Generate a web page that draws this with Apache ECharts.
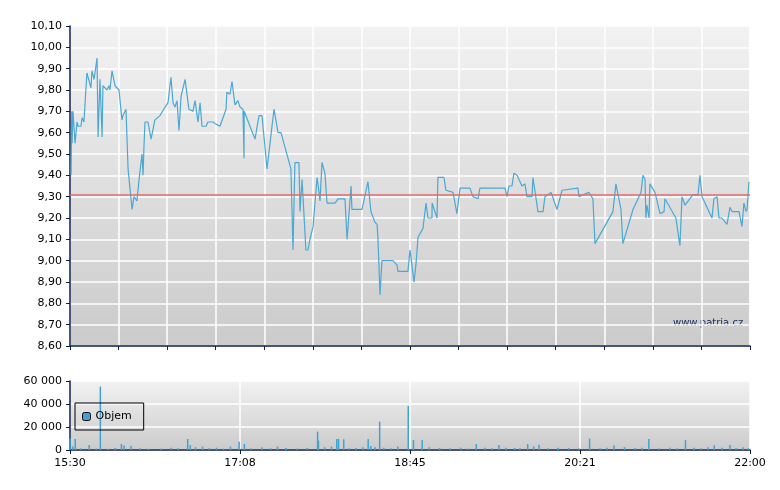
<!DOCTYPE html>
<html>
<head>
<meta charset="utf-8">
<script src="https://cdn.jsdelivr.net/npm/echarts@6/dist/echarts.min.js"></script>
<style>html,body{margin:0;background:#fff}#main{width:780px;height:490px}</style>
</head>
<body>
<div id="main"></div>
<script>
// minutes after 15:30 and price
const priceT = [0.6,1,1.2,1.7,2.9,4.0,4.6,6.3,6.9,8.0,9.7,12.0,12.6,13.8,15.5,16.1,17.2,18.4,18.9,20.1,21.2,22.4,22.9,24.1,25.8,28.1,29.8,30.4,32.1,33.3,33.8,35.6,36.7,38.4,39.6,41.3,41.9,42.4,43.0,44.7,46.5,48.7,51.6,54.5,56.2,57.9,59.1,60.2,61.4,62.5,63.7,64.8,66.0,68.2,70.5,71.7,73.4,74.6,75.7,78.0,79.1,82.0,83.7,86.0,89.5,90.0,91.8,92.9,94.6,96.3,97.5,99.2,99.8,99.9,106.1,108.4,110.1,113.0,117.0,119.3,121.0,126.7,127.9,129.0,131.3,131.9,133.1,135.3,136.5,137.6,139.4,140.5,141.7,143.4,144.5,146.2,147.4,152.0,153.7,157.7,158.9,160.0,161.2,161.7,167.5,170.9,172.6,173.2,174.9,176.1,176.6,177.8,178.9,185.2,187.5,188.1,193.8,195.0,197.3,198.4,199.6,202.4,204.2,205.3,207.6,207.7,210.5,211.0,213.3,214.5,215.6,219.7,221.9,223.7,229.4,231.1,234.0,235.1,249.5,250.6,251.8,253.5,254.6,256.4,259.2,260.9,262.1,265.0,265.5,268.4,271.3,272.4,275.9,279.3,282.2,291.3,291.9,297.6,299.9,301.1,302.2,311.4,313.1,316.0,317.1,322.9,327.5,328.6,329.8,330.3,330.9,332.1,332.6,335.5,338.4,340.7,341.2,347.5,349.8,351.0,352.7,357.3,360.2,361.3,362.5,368.2,369.3,371.1,372.2,373.9,376.8,378.5,379.7,383.7,385.4,386.5,387.7,388.3,389.4];
const priceV = [9.40,9.70,9.55,9.70,9.55,9.65,9.63,9.63,9.67,9.65,9.88,9.81,9.89,9.85,9.95,9.58,9.85,9.58,9.82,9.81,9.80,9.82,9.80,9.89,9.82,9.80,9.66,9.68,9.71,9.43,9.43,9.24,9.30,9.28,9.38,9.50,9.40,9.53,9.65,9.65,9.57,9.66,9.68,9.72,9.74,9.86,9.74,9.72,9.75,9.61,9.77,9.77,9.85,9.71,9.70,9.75,9.65,9.74,9.63,9.63,9.65,9.65,9.64,9.63,9.71,9.79,9.78,9.84,9.73,9.75,9.72,9.71,9.48,9.70,9.57,9.68,9.68,9.43,9.71,9.60,9.60,9.43,9.05,9.46,9.46,9.23,9.38,9.05,9.05,9.10,9.16,9.16,9.39,9.28,9.46,9.41,9.27,9.27,9.29,9.29,9.10,9.10,9.35,9.24,9.24,9.37,9.23,9.23,9.18,9.17,9.11,8.84,9.00,9.00,8.98,8.95,8.95,9.05,8.90,8.98,9.11,9.15,9.27,9.20,9.20,9.27,9.20,9.39,9.39,9.39,9.33,9.32,9.22,9.34,9.34,9.30,9.29,9.34,9.34,9.30,9.35,9.35,9.41,9.40,9.35,9.36,9.30,9.30,9.39,9.23,9.23,9.30,9.32,9.24,9.33,9.34,9.30,9.32,9.29,9.08,9.08,9.23,9.36,9.24,9.08,9.24,9.32,9.40,9.38,9.20,9.26,9.20,9.36,9.32,9.22,9.23,9.29,9.20,9.07,9.30,9.26,9.31,9.31,9.40,9.30,9.20,9.29,9.30,9.20,9.20,9.17,9.25,9.23,9.23,9.16,9.27,9.23,9.24,9.37];
const refPrice = 9.31;

const volT = [0,1.5,3,6,11,15,17.4,22,26,29.5,31,35,40,45,52,58,62,67.5,69,72,76,80,84,88,92,97,100,104,110,115,119,124,130,136,142,142.5,146,150,153,154,157,160,164,168,171,172.5,175,177.6,180,184,188,194,197,202,206,212,218,224,228,233,238,242,246,250,255,258,262.5,266,269,274,280,286,292,298,304,308,312,318,324,328,332,338,344,348,353,358,362,366,369.5,374,378.5,382,386,389];
const volV = [10000,3000,9600,1500,4300,1200,55100,1000,1800,5200,4000,3500,1500,1000,1200,2000,1500,9600,4300,2500,2900,1500,2000,1200,3000,7200,5200,1500,2500,1500,2900,1800,1200,1700,16000,8100,2500,3000,9600,9600,9300,1500,1800,2500,9600,3500,2500,24600,2000,1500,3000,38300,8700,8700,2500,1800,1500,2000,1200,5200,2000,1500,4300,2000,1800,1500,5200,3000,4600,1500,2000,1800,1500,10000,1500,2000,4000,2500,1800,2000,9600,1500,2000,1500,8700,2000,1500,2500,4000,2000,4300,1800,2500,1500];

const timeLabels = ['15:30', '17:08', '18:45', '20:21', '22:00'];
const axisColor = '#0d1f4f';

const plotBg = {
  type: 'linear', x: 0, y: 0, x2: 0, y2: 1,
  colorStops: [{ offset: 0, color: '#f2f2f2' }, { offset: 1, color: '#cbcbcb' }]
};

const chart = echarts.init(document.getElementById('main'));
chart.setOption({
  animation: false,
  grid: [
    { left: 70, right: 30, top: 26, height: 320, show: true, backgroundColor: plotBg, borderWidth: 0 },
    { left: 70, right: 30, top: 381, height: 69, show: true, backgroundColor: plotBg, borderWidth: 0 }
  ],
  legend: {
    data: ['Objem'], left: 75, top: 403, orient: 'vertical',
    borderColor: '#000', borderWidth: 1, borderRadius: 0, padding: [8, 12, 8, 7],
    itemWidth: 8, itemHeight: 8, itemGap: 2,
    itemStyle: { borderColor: '#000', borderWidth: 1 },
    textStyle: { fontFamily: 'DejaVu Sans', fontSize: 11, color: '#000' },
    backgroundColor: 'transparent'
  },
  xAxis: [
    {
      type: 'value', gridIndex: 0, min: 0, max: 390, interval: 390 / 14,
      axisLine: { lineStyle: { color: axisColor, width: 1.5 } },
      axisTick: { show: true, length: 4, lineStyle: { color: axisColor } },
      axisLabel: { show: false },
      splitLine: { lineStyle: { color: '#fff', width: 1.5 } }
    },
    {
      type: 'value', gridIndex: 1, min: 0, max: 390, interval: 97.5,
      axisLine: { lineStyle: { color: axisColor, width: 1.5 } },
      axisTick: { show: true, length: 4, lineStyle: { color: axisColor } },
      axisLabel: {
        color: '#000', fontFamily: 'DejaVu Sans', fontSize: 11,
        formatter: v => timeLabels[Math.round(v / 97.5)]
      },
      splitLine: { lineStyle: { color: '#fff', width: 1.5 } }
    }
  ],
  yAxis: [
    {
      type: 'value', gridIndex: 0, min: 8.6, max: 10.1, interval: 0.1,
      axisLine: { show: true, lineStyle: { color: axisColor, width: 1.5 } },
      axisTick: { show: true, length: 4, lineStyle: { color: axisColor } },
      axisLabel: {
        color: '#000', fontFamily: 'DejaVu Sans', fontSize: 11,
        formatter: v => v.toFixed(2).replace('.', ',')
      },
      splitLine: { lineStyle: { color: '#fff', width: 1.5 } }
    },
    {
      type: 'value', gridIndex: 1, min: 0, max: 60000, interval: 20000,
      axisLine: { show: true, lineStyle: { color: axisColor, width: 1.5 } },
      axisTick: { show: true, length: 4, lineStyle: { color: axisColor } },
      axisLabel: {
        color: '#000', fontFamily: 'DejaVu Sans', fontSize: 11,
        formatter: v => String(v).replace(/\B(?=(\d{3})+(?!\d))/g, ' ')
      },
      splitLine: { lineStyle: { color: '#fff', width: 1.5 } }
    }
  ],
  series: [
    {
      name: 'Cena', type: 'line', xAxisIndex: 0, yAxisIndex: 0,
      data: priceT.map((t, i) => [t, priceV[i]]),
      showSymbol: false, lineStyle: { color: '#4aa8d4', width: 1.2 },
      markLine: {
        silent: true, symbol: 'none', label: { show: false },
        lineStyle: { color: '#e06a6a', type: 'solid', width: 1.5 },
        data: [{ yAxis: refPrice }]
      }
    },
    {
      name: 'Objem', type: 'bar', xAxisIndex: 1, yAxisIndex: 1,
      data: volT.map((t, i) => [t, volV[i]]),
      barWidth: 1.5, itemStyle: { color: '#3ea3d3' }
    }
  ],
  graphic: [{
    type: 'text', left: 673, top: 318,
    style: { text: 'www.patria.cz', fontFamily: 'DejaVu Sans', fontSize: 10, fill: '#1a2a5a' }
  }]
});
</script>
</body>
</html>
